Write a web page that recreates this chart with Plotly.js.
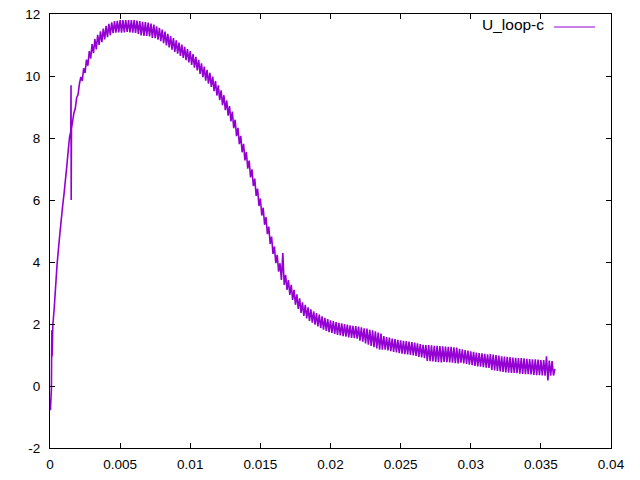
<!DOCTYPE html>
<html>
<head>
<meta charset="utf-8">
<script src="https://cdn.plot.ly/plotly-3.0.1.min.js"></script>
<style>html,body{margin:0;padding:0;background:#fff}#chart{width:640px;height:480px}</style>
</head>
<body>
<div id="chart"></div>
<script>
// Time samples (s) for the rising part of the signal
const riseTime = [0, 0.00003, 0.0001, 0.00013, 0.00015, 0.0002, 0.0003, 0.0004, 0.0005, 0.0006, 0.0007, 0.0008, 0.0009, 0.001, 0.0011, 0.0012, 0.0013, 0.0014, 0.00148, 0.0015, 0.00151, 0.00153, 0.0016, 0.0017, 0.0018, 0.0019, 0.002, 0.0021];
const riseValue = [-0.4, -0.78, -0.1, 1.8, 0.95, 1.95, 2.5, 3.2, 3.9, 4.4, 4.9, 5.35, 5.8, 6.2, 6.65, 7.1, 7.6, 8.05, 8.2, 9.7, 6.0, 8.3, 8.5, 8.8, 8.95, 9.3, 9.4, 9.75];

// Time samples (s) for the remainder of the signal
const mainTime = [
0.0022,0.0023,0.0024,0.0025,0.0026,0.0027,0.0028,0.0029,0.003,0.0031,0.0032,0.0033,0.0034,0.0035,0.0036,0.0037,0.0038,0.0039,
0.004,0.0041,0.0042,0.0043,0.0044,0.0045,0.0046,0.0047,0.0048,0.0049,0.005,0.0051,0.0052,0.0053,0.0054,0.0055,0.0056,0.0057,0.0058,0.0059,
0.006,0.0061,0.0062,0.0063,0.0064,0.0065,0.0066,0.0067,0.0068,0.0069,0.007,0.0071,0.0072,0.0073,0.0074,0.0075,0.0076,0.0077,0.0078,0.0079,
0.008,0.0081,0.0082,0.0083,0.0084,0.0085,0.0086,0.0087,0.0088,0.0089,0.009,0.0091,0.0092,0.0093,0.0094,0.0095,0.0096,0.0097,0.0098,0.0099,
0.01,0.0101,0.0102,0.0103,0.0104,0.0105,0.0106,0.0107,0.0108,0.0109,0.011,0.0111,0.0112,0.0113,0.0114,0.0115,0.0116,0.0117,0.0118,0.0119,
0.012,0.0121,0.0122,0.0123,0.0124,0.0125,0.0126,0.0127,0.0128,0.0129,0.013,0.0131,0.0132,0.0133,0.0134,0.0135,0.0136,0.0137,0.0138,0.0139,
0.014,0.0141,0.0142,0.0143,0.0144,0.0145,0.0146,0.0147,0.0148,0.0149,0.015,0.0151,0.0152,0.0153,0.0154,0.0155,0.0156,0.0157,0.0158,0.0159,
0.016,0.0161,0.0162,0.0163,0.0164,0.0165,0.0166,0.0167,0.0168,0.0169,0.017,0.0171,0.0172,0.0173,0.0174,0.0175,0.0176,0.0177,0.0178,0.0179,
0.018,0.0181,0.0182,0.0183,0.0184,0.0185,0.0186,0.0187,0.0188,0.0189,0.019,0.0191,0.0192,0.0193,0.0194,0.0195,0.0196,0.0197,0.0198,0.0199,
0.02,0.0201,0.0202,0.0203,0.0204,0.0205,0.0206,0.0207,0.0208,0.0209,0.021,0.0211,0.0212,0.0213,0.0214,0.0215,0.0216,0.0217,0.0218,0.0219,
0.022,0.0221,0.0222,0.0223,0.0224,0.0225,0.0226,0.0227,0.0228,0.0229,0.023,0.0231,0.0232,0.0233,0.0234,0.0235,0.0236,0.0237,0.0238,0.0239,
0.024,0.0241,0.0242,0.0243,0.0244,0.0245,0.0246,0.0247,0.0248,0.0249,0.025,0.0251,0.0252,0.0253,0.0254,0.0255,0.0256,0.0257,0.0258,0.0259,
0.026,0.0261,0.0262,0.0263,0.0264,0.0265,0.0266,0.0267,0.0268,0.0269,0.027,0.0271,0.0272,0.0273,0.0274,0.0275,0.0276,0.0277,0.0278,0.0279,
0.028,0.0281,0.0282,0.0283,0.0284,0.0285,0.0286,0.0287,0.0288,0.0289,0.029,0.0291,0.0292,0.0293,0.0294,0.0295,0.0296,0.0297,0.0298,0.0299,
0.03,0.0301,0.0302,0.0303,0.0304,0.0305,0.0306,0.0307,0.0308,0.0309,0.031,0.0311,0.0312,0.0313,0.0314,0.0315,0.0316,0.0317,0.0318,0.0319,
0.032,0.0321,0.0322,0.0323,0.0324,0.0325,0.0326,0.0327,0.0328,0.0329,0.033,0.0331,0.0332,0.0333,0.0334,0.0335,0.0336,0.0337,0.0338,0.0339,
0.034,0.0341,0.0342,0.0343,0.0344,0.0345,0.0346,0.0347,0.0348,0.0349,0.035,0.0351,0.0352,0.0353,0.0354,0.0355,0.0356,0.0357,0.0358,0.0359,
0.036];
const mainValue = [
9.97,9.84,10.25,10.10,10.53,10.33,10.80,10.56,11.03,10.74,11.19,10.86,11.33,11.0,11.44,11.09,11.53,11.18,
11.62,11.25,11.68,11.32,11.73,11.38,11.77,11.40,11.78,11.41,11.80,11.40,11.80,11.41,11.80,11.42,11.80,11.41,11.80,11.40,
11.80,11.39,11.79,11.36,11.77,11.31,11.75,11.29,11.74,11.29,11.72,11.28,11.69,11.23,11.66,11.22,11.60,11.17,11.55,11.12,
11.50,11.06,11.43,10.99,11.36,10.92,11.29,10.85,11.22,10.78,11.15,10.72,11.08,10.65,11.01,10.58,10.94,10.51,10.87,10.44,
10.80,10.36,10.71,10.27,10.62,10.18,10.52,10.07,10.41,9.96,10.30,9.85,10.20,9.75,10.10,9.65,9.98,9.51,9.84,9.37,
9.70,9.22,9.54,9.06,9.38,8.90,9.21,8.72,9.03,8.54,8.85,8.32,8.59,8.06,8.33,7.80,8.07,7.54,7.81,7.28,
7.55,7.01,7.27,6.73,6.99,6.45,6.69,6.13,6.37,5.81,6.05,5.50,5.75,5.20,5.45,4.90,5.14,4.58,4.82,4.26,
4.50,3.96,4.23,3.69,3.96,3.42,4.29,3.26,3.58,3.10,3.42,2.94,3.26,2.78,3.10,2.62,2.96,2.49,2.83,2.36,
2.70,2.26,2.62,2.18,2.54,2.10,2.47,2.04,2.41,1.98,2.35,1.92,2.30,1.87,2.25,1.82,2.20,1.78,2.16,1.74,
2.12,1.71,2.09,1.68,2.06,1.65,2.04,1.63,2.02,1.61,2.00,1.59,1.98,1.57,1.96,1.55,1.94,1.54,1.93,1.53,
1.92,1.46,1.89,1.43,1.86,1.37,1.85,1.33,1.81,1.29,1.80,1.25,1.76,1.21,1.72,1.17,1.69,1.17,1.61,1.17,
1.58,1.15,1.56,1.12,1.53,1.10,1.51,1.08,1.49,1.06,1.47,1.04,1.46,1.03,1.45,1.02,1.43,1.00,1.42,0.99,
1.40,0.97,1.38,0.94,1.35,0.92,1.33,0.90,1.32,0.81,1.32,0.80,1.31,0.79,1.30,0.78,1.30,0.77,1.29,0.76,
1.28,0.78,1.27,0.77,1.26,0.76,1.26,0.75,1.25,0.74,1.24,0.73,1.20,0.75,1.18,0.73,1.16,0.71,1.14,0.69,
1.12,0.67,1.10,0.65,1.08,0.63,1.06,0.62,1.05,0.61,1.04,0.59,1.02,0.58,1.03,0.52,1.01,0.50,1.00,0.49,
0.98,0.47,0.96,0.45,0.95,0.44,0.94,0.43,0.93,0.42,0.92,0.42,0.91,0.41,0.90,0.40,0.90,0.39,0.89,0.38,
0.88,0.38,0.87,0.37,0.86,0.36,0.86,0.35,0.85,0.35,0.84,0.34,0.84,0.33,0.96,0.18,0.82,0.33,0.80,0.34,
0.55];

const xTicks = [0, 0.005, 0.01, 0.015, 0.02, 0.025, 0.03, 0.035, 0.04];
const xTickText = ["0", "0.005", "0.01", "0.015", "0.02", "0.025", "0.03", "0.035", "0.04"];
const yTicks = [-2, 0, 2, 4, 6, 8, 10, 12];
const seriesName = "U_loop-c";
const lineColor = "#9400d3";

const trace = {
  x: riseTime.concat(mainTime),
  y: riseValue.concat(mainValue),
  type: "scatter",
  mode: "lines",
  name: seriesName,
  line: {color: lineColor, width: 1.6, simplify: false},
  showlegend: false,
  hoverinfo: "skip"
};

const axisCommon = {
  showgrid: false,
  zeroline: false,
  showline: true,
  linecolor: "#000",
  linewidth: 1,
  mirror: "ticks",
  ticks: "inside",
  ticklen: 5,
  tickcolor: "#000",
  tickwidth: 1,
  tickfont: {family: "Liberation Sans, Arial, sans-serif", size: 13.5, color: "#000"}
};

const layout = {
  width: 640,
  height: 480,
  margin: {l: 50, r: 29, t: 14, b: 32},
  paper_bgcolor: "#fff",
  plot_bgcolor: "#fff",
  showlegend: false,
  xaxis: Object.assign({}, axisCommon, {
    range: [0, 0.04],
    tickvals: xTicks,
    ticktext: xTickText,
    ticklabelstandoff: 4
  }),
  yaxis: Object.assign({}, axisCommon, {
    range: [-2, 12],
    tickvals: yTicks,
    ticktext: yTicks.map(String),
    ticklabelstandoff: 6
  }),
  annotations: [{
    xref: "paper", yref: "paper",
    x: (546 - 50) / 561, y: 1 - (25 - 14) / 434,
    xanchor: "right", yanchor: "middle",
    text: seriesName, showarrow: false,
    font: {family: "Liberation Sans, Arial, sans-serif", size: 15.5, color: "#000"}
  }],
  shapes: [{
    type: "line", xref: "paper", yref: "paper",
    x0: (554 - 50) / 561, x1: (595 - 50) / 561,
    y0: 1 - (27 - 14) / 434, y1: 1 - (27 - 14) / 434,
    line: {color: lineColor, width: 1}
  }]
};

Plotly.newPlot("chart", [trace], layout, {displayModeBar: false, staticPlot: true});
</script>
</body>
</html>
